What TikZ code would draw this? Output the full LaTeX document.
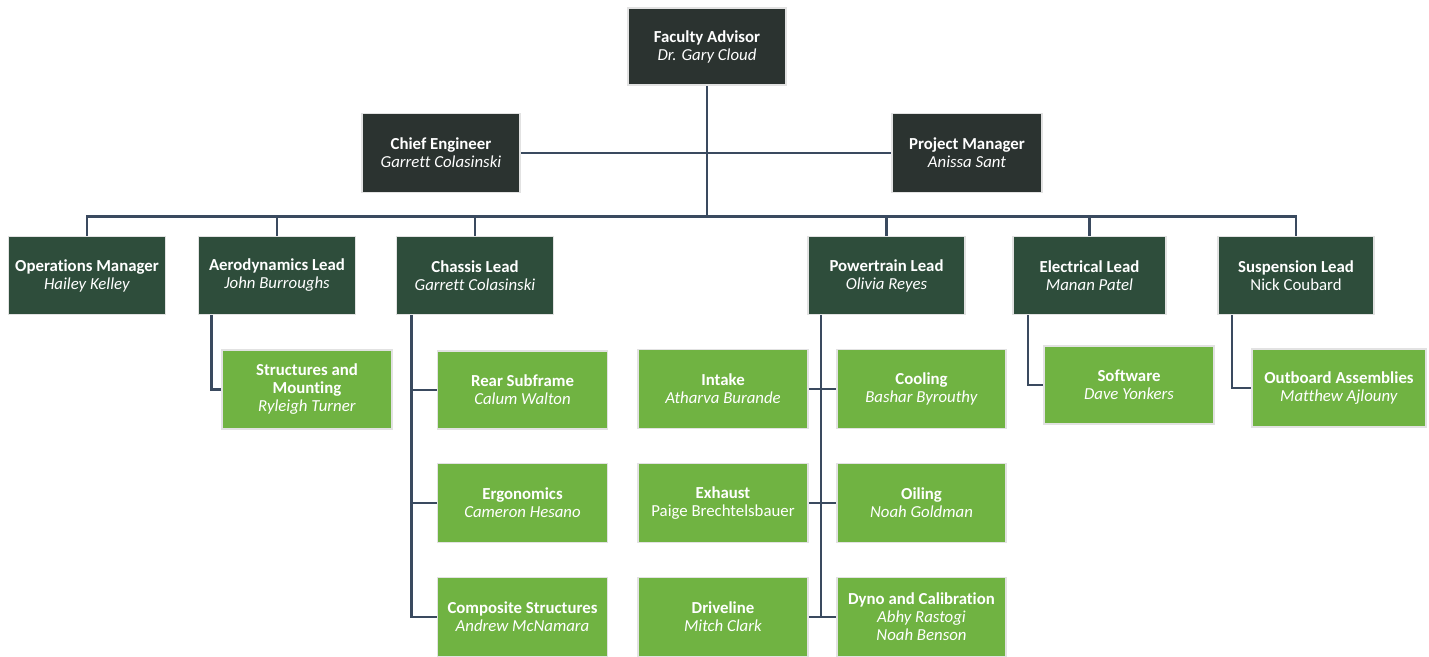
\documentclass[tikz,border=0pt]{standalone}
\usepackage{fontspec}
\setmainfont[RawFeature={-liga}]{Carlito}
\definecolor{topdark}{HTML}{2B3330}
\definecolor{leaddark}{HTML}{2E4D3B}
\definecolor{subgreen}{HTML}{70B342}
\definecolor{conn}{HTML}{3A4A5F}
\definecolor{rim}{HTML}{E2E2E2}
\begin{document}
\begin{tikzpicture}[x=1pt,y=-1pt,
  box/.style={draw=rim, line width=1.8pt, inner sep=0pt, text=white, align=center,
    font=\fontsize{16.8}{18}\selectfont},
  topbox/.style={box, fill=topdark, minimum width=158pt, minimum height=77pt},
  leadbox/.style={box, fill=leaddark, minimum width=157pt, minimum height=78pt},
  subbox/.style={box, fill=subgreen, minimum width=170pt, minimum height=79pt},
  link/.style={draw=conn, line width=2.4pt}]
\useasboundingbox[fill=white] (0,0) rectangle (1429,656);

% top level
\node[topbox] (fa) at (707,46.5) {\textbf{Faculty Advisor}\\\textit{Dr. Gary Cloud}};
\node[topbox, minimum height=79pt] (ce) at (441,153) {\textbf{Chief Engineer}\\\textit{Garrett Colasinski}};
\node[topbox, minimum width=150pt, minimum height=79pt] (pm) at (967,153) {\textbf{Project Manager}\\\textit{Anissa Sant}};

% leads
\node[leadbox] (ops) at (87,275.5) {\textbf{Operations Manager}\\\textit{Hailey Kelley}};
\node[leadbox] (aero) at (277,275.5) {\textbf{Aerodynamics Lead}\\\textit{John Burroughs}};
\node[leadbox] (chs) at (475,275.5) {\textbf{Chassis Lead}\\\textit{Garrett Colasinski}};
\node[leadbox] (pwt) at (886.5,275.5) {\textbf{Powertrain Lead}\\\textit{Olivia Reyes}};
\node[leadbox, minimum width=153pt] (ele) at (1089.5,275.5) {\textbf{Electrical Lead}\\\textit{Manan Patel}};
\node[leadbox, minimum width=156pt] (sus) at (1296,275.5) {\textbf{Suspension Lead}\\Nick Coubard};

% sub teams
\node[subbox] (stm) at (307,389.5) {\textbf{Structures and}\\\textbf{Mounting}\\\textit{Ryleigh Turner}};
\node[subbox, minimum height=78pt] (rear) at (522.5,390) {\textbf{Rear Subframe}\\\textit{Calum Walton}};
\node[subbox] (ergo) at (522.5,503) {\textbf{Ergonomics}\\\textit{Cameron Hesano}};
\node[subbox] (comp) at (522.5,617) {\textbf{Composite Structures}\\\textit{Andrew McNamara}};
\node[subbox] (intk) at (723,389) {\textbf{Intake}\\\textit{Atharva Burande}};
\node[subbox, minimum width=169pt] (cool) at (921.5,389) {\textbf{Cooling}\\\textit{Bashar Byrouthy}};
\node[subbox] (exh) at (723,503) {\textbf{Exhaust}\\Paige Brechtelsbauer};
\node[subbox, minimum width=169pt] (oil) at (921.5,503) {\textbf{Oiling}\\\textit{Noah Goldman}};
\node[subbox] (drv) at (723,617) {\textbf{Driveline}\\\textit{Mitch Clark}};
\node[subbox, minimum width=169pt] (dyno) at (921.5,617) {\textbf{Dyno and Calibration}\\\textit{Abhy Rastogi}\\\textit{Noah Benson}};
\node[subbox, minimum height=78pt] (sw) at (1129,385) {\textbf{Software}\\\textit{Dave Yonkers}};
\node[subbox, minimum width=174pt, minimum height=78pt] (outb) at (1339,388) {\textbf{Outboard Assemblies}\\\textit{Matthew Ajlouny}};

% top connectors
\coordinate (bus) at (707,216.5);
\path[link] (ce.east) -- (pm.west);
\path[link] (fa.south) -- (fa.south |- bus);
\path[link] (ops.north) -- (ops.north |- bus) -- (sus.north |- bus) -- (sus.north);
\foreach \n in {aero,chs,pwt,ele} {\path[link] (\n.north) -- (\n.north |- bus);}

% aerodynamics
\coordinate (aeroT) at ([xshift=14pt]aero.south west);
\path[link] (aeroT) |- (stm.west);
% chassis
\coordinate (chsT) at ([xshift=16pt]chs.south west);
\path[link] (chsT) |- (comp.west);
\path[link] (chsT |- rear.west) -- (rear.west);
\path[link] (chsT |- ergo.west) -- (ergo.west);
% powertrain
\coordinate (pwtT) at ([xshift=14pt]pwt.south west);
\path[link] (pwtT) -- (pwtT |- dyno.west);
\path[link] (intk.east) -- (cool.west);
\path[link] (exh.east) -- (oil.west);
\path[link] (drv.east) -- (dyno.west);
% electrical
\coordinate (eleT) at ([xshift=16pt]ele.south west);
\path[link] (eleT) |- (sw.west);
% suspension
\coordinate (susT) at ([xshift=15pt]sus.south west);
\path[link] (susT) |- (outb.west);
\end{tikzpicture}
\end{document}
